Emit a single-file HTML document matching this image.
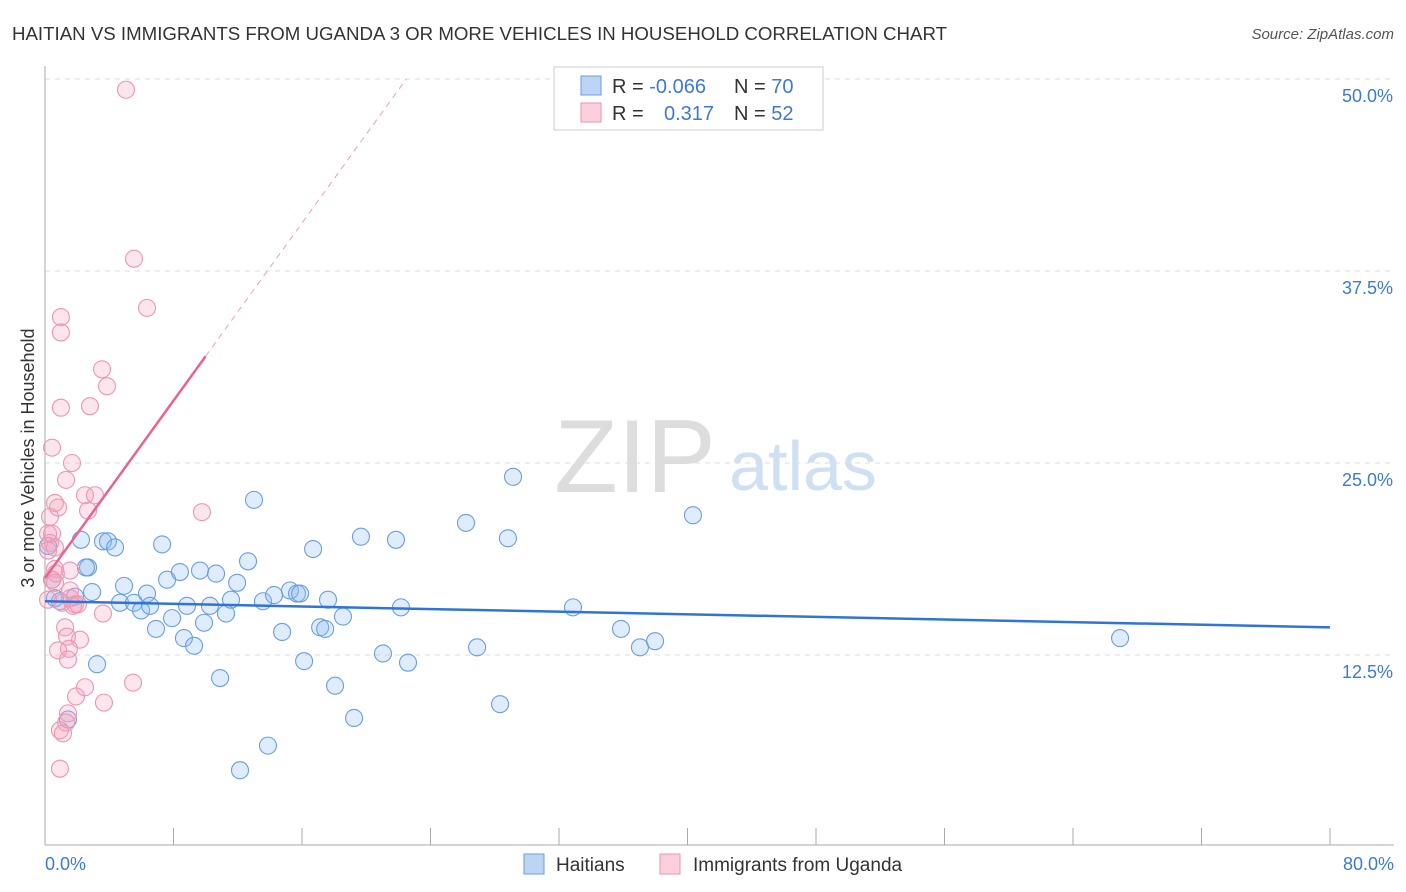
<!DOCTYPE html>
<html><head><meta charset="utf-8">
<style>
body{margin:0;background:#fff;font-family:"Liberation Sans",sans-serif;}
#wrap{position:relative;width:1406px;height:892px;overflow:hidden}
svg text{font-family:"Liberation Sans",sans-serif}
</style></head>
<body>
<div id="wrap">
<svg id="chart" width="1406" height="892" xmlns="http://www.w3.org/2000/svg">
<text x="12" y="40" font-size="18" fill="#333" textLength="935" lengthAdjust="spacingAndGlyphs">HAITIAN VS IMMIGRANTS FROM UGANDA 3 OR MORE VEHICLES IN HOUSEHOLD CORRELATION CHART</text>
<text x="1394" y="39" font-size="15" fill="#555" font-style="italic" text-anchor="end">Source: ZipAtlas.com</text>
<text x="0" y="0" transform="translate(34,458) rotate(-90)" font-size="18" fill="#333" text-anchor="middle">3 or more Vehicles in Household</text>
<g>
<text x="635" y="492" font-size="104" font-family="Liberation Serif" fill="#ddd" text-anchor="middle">ZIP</text>
<text x="803" y="490" font-size="70" fill="#cfe0f3" text-anchor="middle">atlas</text>
</g>
<g id="grid"></g><g id="axes"></g><g id="pts"></g><g id="trend"></g>
<g>
<rect x="554" y="67" width="269" height="63" fill="#fff" stroke="#ccc"/>
<rect x="581" y="76" width="20" height="19" fill="#bcd5f5" stroke="#6a9ee0"/>
<rect x="581" y="103" width="20" height="19" fill="#fbd0dc" stroke="#ee93ad"/>
<text x="612" y="93" font-size="20" fill="#333">R = <tspan fill="#3c7ad6">-0.066</tspan></text>
<text x="734" y="93" font-size="20" fill="#333">N = <tspan fill="#3c7ad6">70</tspan></text>
<text x="612" y="120" font-size="20" fill="#333">R = <tspan fill="#3c7ad6" x="664">0.317</tspan></text>
<text x="734" y="120" font-size="20" fill="#333">N = <tspan fill="#3c7ad6">52</tspan></text>
</g>
<g>
<rect x="524" y="854" width="20" height="20" fill="#bcd5f5" stroke="#6a9ee0"/>
<text x="556" y="871" font-size="19" fill="#333">Haitians</text>
<rect x="660" y="854" width="20" height="20" fill="#fbd0dc" stroke="#ee93ad"/>
<text x="693" y="871" font-size="19" fill="#333">Immigrants from Uganda</text>
</g>
</svg>
</div>
<script>
const blueX=[2.24,2.68,2.93,3.24,3.61,3.92,4.36,4.92,4.67,5.54,5.98,6.35,6.54,6.91,7.29,7.60,7.91,8.40,8.65,8.84,9.28,9.65,9.90,10.27,10.65,10.90,11.27,11.58,11.96,12.14,12.64,13.01,13.57,13.88,14.26,14.76,15.25,15.69,15.88,16.13,16.69,17.13,17.44,17.62,18.06,18.55,19.24,19.67,21.04,21.85,22.16,22.60,26.21,26.90,28.33,28.82,29.14,32.87,35.86,37.04,37.98,40.34,66.93,1.43,0.62,0.93,1.87,0.19,0.44,2.55];
const blueY=[20.0,18.2,16.6,11.9,19.9,19.9,19.5,17.0,15.9,15.9,15.4,16.5,15.7,14.2,19.7,17.4,14.9,17.9,13.6,15.7,13.1,18.0,14.6,15.7,17.8,11.0,15.2,16.1,17.2,5.0,18.6,22.6,16.0,6.6,16.4,14.0,16.7,16.5,16.5,12.1,19.4,14.3,14.2,16.1,10.5,15.0,8.4,20.2,12.6,20.0,15.6,12.0,21.1,13.0,9.3,20.1,24.1,15.6,14.2,13.0,13.4,21.6,13.6,8.3,16.2,16.0,16.3,19.6,17.4,18.2];
const pinkX=[5.04,5.54,6.35,0.99,0.99,3.55,3.86,2.80,0.99,0.44,1.68,1.31,0.62,0.81,2.49,3.11,2.68,0.31,0.19,0.44,0.31,0.19,0.62,9.77,0.62,0.68,1.56,0.44,0.62,1.56,1.06,1.87,1.74,3.61,1.25,1.37,2.18,1.49,0.81,1.43,5.48,1.93,2.49,3.67,1.43,1.31,0.93,1.12,0.93,1.56,0.19,2.05];
const pinkY=[49.3,38.3,35.1,34.5,33.5,31.1,30.0,28.7,28.6,26.0,25.0,23.9,22.4,22.1,22.9,22.9,21.9,21.5,20.4,20.4,19.8,19.3,19.5,21.8,18.1,17.8,18.0,17.4,17.2,16.7,15.9,15.8,15.7,15.2,14.3,13.7,13.5,12.9,12.8,12.2,10.7,9.8,10.4,9.4,8.7,8.1,7.6,7.4,5.1,16.2,16.1,15.8];
const blueTrend=[16.0,14.3];   // y at x=0 and x=80
const pinkTrend=[17.5,1.445];   // intercept, slope
const yTicks=[12.5,25.0,37.5,50.0];
const NS="http://www.w3.org/2000/svg";
const X=v=>45+v*(1285/80), Y=v=>847-v*(192/12.5);
function mk(tag,attrs,parent){const e=document.createElementNS(NS,tag);for(const k in attrs)e.setAttribute(k,attrs[k]);parent.appendChild(e);return e;}
const grid=document.getElementById('grid'),axes=document.getElementById('axes'),pts=document.getElementById('pts'),tr=document.getElementById('trend');
yTicks.forEach(t=>{
 const l=mk('line',{x1:45,x2:1394,y1:Y(t),y2:Y(t),stroke:'#ddd','stroke-dasharray':'5,5'},grid);
 
 
 const tx=mk('text',{x:1393,y:Y(t)+23,'font-size':18,fill:'#3c7ad6','text-anchor':'end'},axes);
 tx.textContent=t.toFixed(1)+'%';
 
 
});
const ax=mk('line',{x1:45,x2:45,y1:66,y2:845,stroke:'#aaa'},axes);


const bx=mk('line',{x1:45,x2:1394,y1:845,y2:845,stroke:'#aaa'},axes);


for(let i=0;i<=10;i++){const t=mk('line',{x1:X(i*8),x2:X(i*8),y1:828,y2:845,stroke:'#aaa'},axes);
 
 }
[[0,'0.0%',45,'start'],[80,'80.0%',1394,'end']].forEach(a=>{const t=mk('text',{x:a[2],y:870,'font-size':18,fill:'#3c7ad6','text-anchor':a[3]},axes);t.textContent=a[1];
 
 });
blueX.forEach((x,i)=>{const c=mk('circle',{cx:X(x),cy:Y(blueY[i]),r:8.5,fill:'rgba(140,185,240,0.28)',stroke:'#6a9ee3','stroke-width':1.1},pts);
 
 });
pinkX.forEach((x,i)=>{const c=mk('circle',{cx:X(x),cy:Y(pinkY[i]),r:8.5,fill:'rgba(245,160,188,0.28)',stroke:'#ee96b2','stroke-width':1.1},pts);
 
 });
const bl=mk('line',{x1:X(0),y1:Y(blueTrend[0]),x2:X(80),y2:Y(blueTrend[1]),stroke:'#2f74d6','stroke-width':2.5},tr);


const xe=10, xd=(50-pinkTrend[0])/pinkTrend[1];
const pl=mk('line',{x1:X(0),y1:Y(pinkTrend[0]),x2:X(xe),y2:Y(pinkTrend[0]+pinkTrend[1]*xe),stroke:'#e8648f','stroke-width':2.5},tr);


const pd=mk('line',{x1:X(xe),y1:Y(pinkTrend[0]+pinkTrend[1]*xe),x2:X(xd),y2:Y(50),stroke:'#eaa0b8','stroke-width':1,'stroke-dasharray':'6,5'},tr);


</script>
</body></html>
